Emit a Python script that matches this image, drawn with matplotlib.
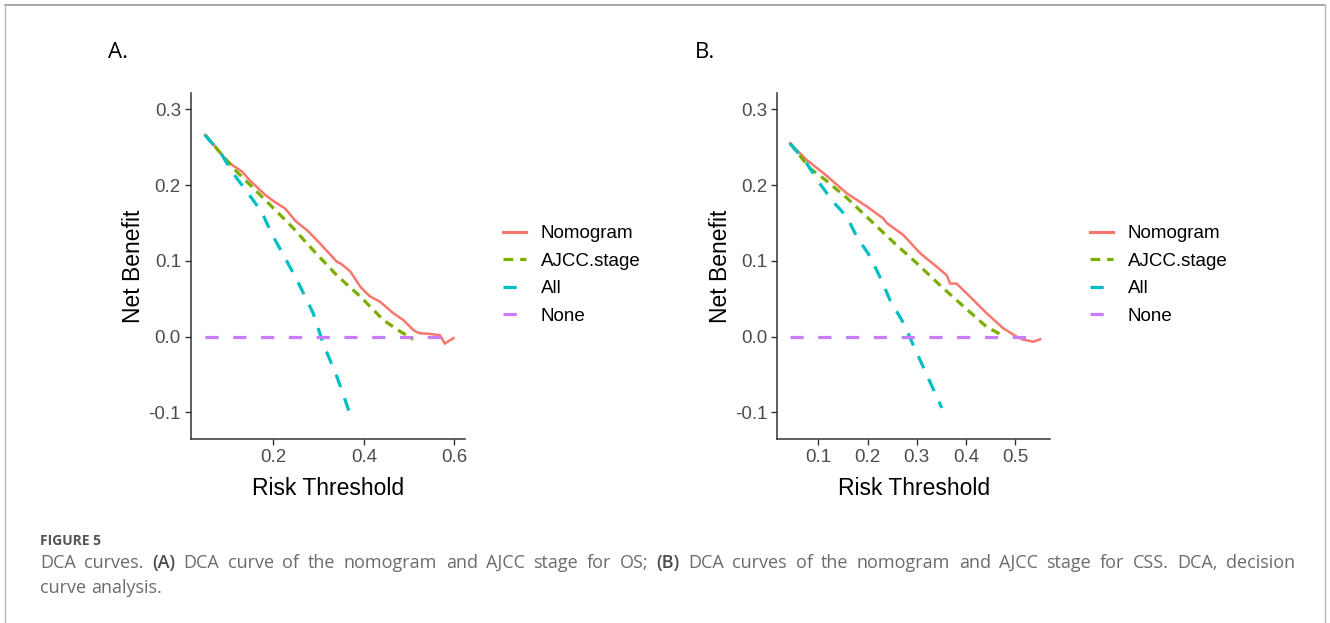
import matplotlib
matplotlib.use("Agg")
import matplotlib.pyplot as plt
from matplotlib.lines import Line2D

plt.rcParams['lines.scale_dashes'] = False

# ---------------- Data ----------------
# Panel A (OS)
a_nomo_x = [0.049, 0.070, 0.093, 0.110, 0.130, 0.150, 0.182, 0.200, 0.226, 0.250, 0.277, 0.303,
            0.320, 0.340, 0.350, 0.370, 0.392, 0.405, 0.414, 0.436, 0.465, 0.487, 0.509, 0.517,
            0.524, 0.546, 0.568, 0.572, 0.579, 0.590, 0.598]
a_nomo_y = [0.266, 0.252, 0.235, 0.226, 0.218, 0.205, 0.187, 0.179, 0.169, 0.152, 0.139, 0.123,
            0.112, 0.099, 0.096, 0.086, 0.066, 0.058, 0.053, 0.046, 0.031, 0.022, 0.009, 0.006,
            0.0045, 0.0036, 0.002, -0.002, -0.009, -0.005, -0.002]
a_ajcc_x = [0.049, 0.115, 0.159, 0.211, 0.241, 0.288, 0.340, 0.392, 0.443, 0.480, 0.509]
a_ajcc_y = [0.266, 0.220, 0.194, 0.163, 0.145, 0.114, 0.081, 0.053, 0.022, 0.007, -0.0035]
a_all_x = [0.049, 0.086, 0.108, 0.138, 0.174, 0.196, 0.222, 0.252, 0.288, 0.310, 0.340, 0.373]
a_all_y = [0.266, 0.240, 0.218, 0.194, 0.165, 0.136, 0.108, 0.075, 0.031, -0.009, -0.052, -0.108]
a_none_x = [0.049, 0.576]
a_none_y = [0.0, 0.0]

# Panel B (CSS)
b_nomo_x = [0.0425, 0.0764, 0.110, 0.158, 0.198, 0.232, 0.239, 0.273, 0.307, 0.341, 0.361,
            0.368, 0.381, 0.408, 0.442, 0.476, 0.503, 0.517, 0.537, 0.551]
b_nomo_y = [0.255, 0.233, 0.216, 0.189, 0.172, 0.156, 0.150, 0.134, 0.110, 0.092, 0.081,
            0.070, 0.070, 0.053, 0.031, 0.011, 0.000, -0.004, -0.0066, -0.0035]
b_ajcc_x = [0.0425, 0.083, 0.110, 0.158, 0.205, 0.252, 0.300, 0.347, 0.395, 0.442, 0.479]
b_ajcc_y = [0.255, 0.222, 0.209, 0.183, 0.154, 0.125, 0.097, 0.068, 0.040, 0.013, 0.000]
b_all_x = [0.0425, 0.076, 0.103, 0.130, 0.158, 0.178, 0.205, 0.225, 0.246, 0.273, 0.293, 0.351]
b_all_y = [0.255, 0.229, 0.202, 0.178, 0.158, 0.132, 0.106, 0.079, 0.048, 0.018, -0.011, -0.094]
b_none_x = [0.0425, 0.530]
b_none_y = [0.0, 0.0]

series_names = ["Nomogram", "AJCC.stage", "All", "None"]
yticks = [-0.1, 0.0, 0.1, 0.2, 0.3]
a_xticks = [0.2, 0.4, 0.6]
b_xticks = [0.1, 0.2, 0.3, 0.4, 0.5]
panel_labels = ["A.", "B."]
caption_title = "FIGURE 5"
caption_line1 = ("DCA curves. (A) DCA curve of the nomogram and AJCC stage for OS; "
                 "(B) DCA curves of the nomogram and AJCC stage for CSS. DCA, decision")
caption_line2 = "curve analysis."

# ---------------- Style ----------------
colors = {"Nomogram": "#F8766D", "AJCC.stage": "#7CAE00", "All": "#00BFC4", "None": "#C77CFF"}
styles = {
    "Nomogram": dict(lw=1.8),
    "AJCC.stage": dict(lw=2.3, dashes=(6.5, 4.5)),
    "All": dict(lw=2.3, dashes=(9.5, 8.5)),
    "None": dict(lw=2.3, dashes=(9.5, 10.5)),
}
tick_font = "Liberation Sans"
W, H = 1330, 623
fig = plt.figure(figsize=(W / 100, H / 100), dpi=100)
fig.patch.set_facecolor("white")


def px_rect(l, t, r, b):
    return [l / W, 1 - b / H, (r - l) / W, (b - t) / H]


def draw_panel(rect, data, xticks, xlim, legend_xy):
    ax = fig.add_axes(rect)
    for name, (xs, ys) in zip(series_names, data):
        st = styles[name]
        if "dashes" in st:
            ax.plot(xs, ys, color=colors[name], lw=st["lw"], dashes=st["dashes"],
                    dash_capstyle="butt")
        else:
            ax.plot(xs, ys, color=colors[name], lw=st["lw"], ls="-", solid_joinstyle="miter")
    ax.set_xlim(*xlim)
    ax.set_ylim(-0.1354, 0.321)
    ax.set_xticks(xticks)
    ax.set_xticklabels([f"{v:.1f}" for v in xticks])
    ax.set_yticks(yticks)
    ax.set_yticklabels([f"{v:.1f}" for v in yticks])
    for s in ["top", "right"]:
        ax.spines[s].set_visible(False)
    for s in ["left", "bottom"]:
        ax.spines[s].set_color("#333333")
        ax.spines[s].set_linewidth(1.1)
    ax.tick_params(axis="both", direction="out", length=4, width=1.0, color="#333333",
                   labelcolor="#4D4D4D", labelsize=13.5, pad=3)
    for lab in ax.get_xticklabels() + ax.get_yticklabels():
        lab.set_fontfamily(tick_font)
    ax.set_xlabel("Risk Threshold", fontsize=16.5, family=tick_font, color="black", labelpad=8)
    ax.set_ylabel("Net Benefit", fontsize=16.5, family=tick_font, color="black", labelpad=2.5)
    ax.set_facecolor("white")

    handles = []
    for name in series_names:
        st = styles[name]
        if "dashes" in st:
            h = Line2D([0], [0], color=colors[name], lw=st["lw"],
                       dashes=(7, 5) if name == "AJCC.stage" else st["dashes"],
                       dash_capstyle="butt")
        else:
            h = Line2D([0], [0], color=colors[name], lw=2.3)
        handles.append(h)
    fig.legend(handles, series_names, loc="upper left",
               bbox_to_anchor=(legend_xy[0] / W, 1 - legend_xy[1] / H),
               frameon=False, prop={"family": tick_font, "size": 13.5},
               handlelength=1.2, handletextpad=0.8, labelspacing=0.56,
               borderpad=0, borderaxespad=0)
    return ax


axA = draw_panel(px_rect(190.7, 93.3, 465, 439.3),
                 [(a_nomo_x, a_nomo_y), (a_ajcc_x, a_ajcc_y), (a_all_x, a_all_y), (a_none_x, a_none_y)],
                 a_xticks, (0.0173, 0.6236), (503, 225))
axB = draw_panel(px_rect(777.3, 93.3, 1050, 439.3),
                 [(b_nomo_x, b_nomo_y), (b_ajcc_x, b_ajcc_y), (b_all_x, b_all_y), (b_none_x, b_none_y)],
                 b_xticks, (0.0166, 0.571), (1090, 225))

# Panel letters
fig.text(108 / W, 1 - 52 / H, panel_labels[0], fontsize=16, family="Open Sans", va="center", ha="left")
fig.text(695 / W, 1 - 52 / H, panel_labels[1], fontsize=16, family="Open Sans", va="center", ha="left")

# Caption
cap_font = "Open Sans"
fig.text(40 / W, 1 - 541 / H, caption_title, fontsize=10, family=cap_font, weight="bold",
         color="#555555", va="center", ha="left")

renderer = fig.canvas.get_renderer()


def justified_line(line, y_px, x0, x1, size, justify=True):
    words = line.split(" ")
    texts = []
    for w in words:
        bold = w in ("(A)", "(B)")
        t = fig.text(0, 1 - y_px / H, w, fontsize=size, family=cap_font,
                     weight="semibold" if bold else "normal",
                     color="#4a4a4a" if bold else "#6b6b6b", va="center", ha="left")
        texts.append(t)
    widths = [t.get_window_extent(renderer).width for t in texts]
    t1 = fig.text(0, 0, "a a", fontsize=size, family=cap_font)
    t2 = fig.text(0, 0, "aa", fontsize=size, family=cap_font)
    space = t1.get_window_extent(renderer).width - t2.get_window_extent(renderer).width
    t1.remove()
    t2.remove()
    gap = (x1 - x0 - sum(widths)) / (len(words) - 1) if justify else space
    x = x0
    for t, w in zip(texts, widths):
        t.set_x(x / W)
        x += w + gap


justified_line(caption_line1, 563, 40, 1295, 13, True)
justified_line(caption_line2, 588, 40, 1295, 13, False)

# Frame (top, left, right)
fig.add_artist(Line2D([5 / W, 1325 / W], [1 - 5 / H, 1 - 5 / H], color="#999999", lw=1.2,
                      transform=fig.transFigure))
fig.add_artist(Line2D([5 / W, 5 / W], [0, 1 - 5 / H], color="#bbbbbb", lw=1.0,
                      transform=fig.transFigure))
fig.add_artist(Line2D([1325 / W, 1325 / W], [0, 1 - 5 / H], color="#bbbbbb", lw=1.0,
                      transform=fig.transFigure))

fig.savefig("out.png", dpi=100, facecolor="white")
